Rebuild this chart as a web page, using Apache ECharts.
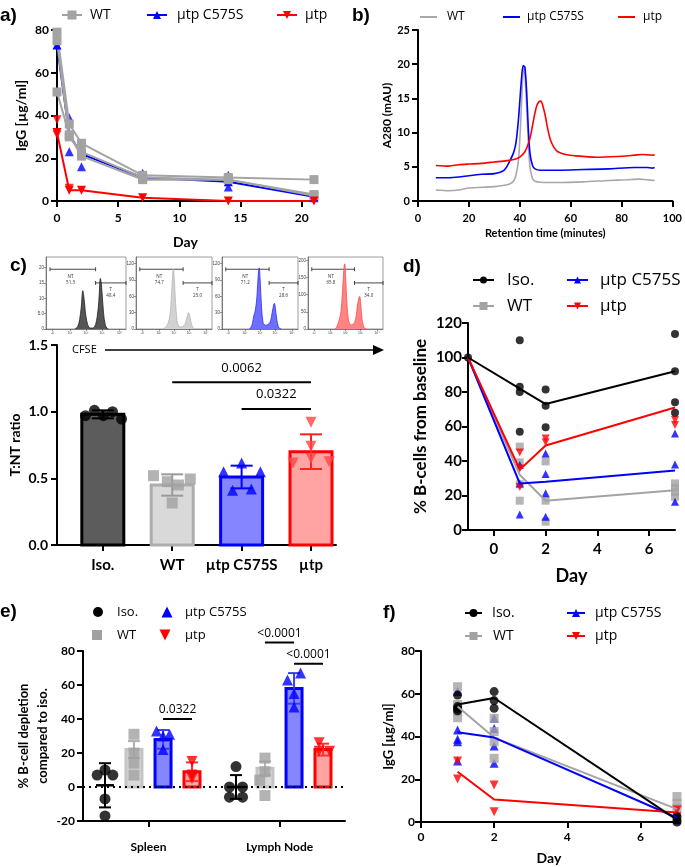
<!DOCTYPE html>
<html><head><meta charset="utf-8">
<script src="https://cdn.jsdelivr.net/npm/echarts@6/dist/echarts.min.js"></script>
<style>html,body{margin:0;padding:0;background:#fff}#c{width:685px;height:867px}</style>
</head><body><div id="c"></div>
<script>
// ================= DATA =================
const groups = ['Iso.', 'WT', 'µtp C575S', 'µtp'];
// a) IgG over time
const daysA = [0, 1, 2, 7, 14, 21];
const wtLinesA = [[79, 36, 27, 12, 11, 10], [75, 30, 23, 11, 10, 3], [51, 31, 21, 10, 10, 2.5]];
const c575LineA = [73, 31, 22, 11, 9, 2];
const c575ExtraA = [[1, 39], [1, 23], [2, 25], [2, 16], [7, 13], [14, 12], [14, 6.5], [21, 1.5]];
const utpLineA = [32, 5, 5, 1.5, 0, 0];
const utpExtraA = [[0, 38], [0, 31], [1, 6]];
// b) SEC traces [minutes, mAU]
const rtWT = [[7,1.6],[12,1.5],[16,1.6],[20,1.9],[25,2.0],[30,2.1],[34,2.3],[36,2.5],[37.5,2.9],[38.5,3.8],[39.5,6],[40.3,11],[41,17],[41.5,19.5],[42,18.5],[42.7,14],[43.3,9],[44,5],[45,3.3],[46,2.9],[48,2.75],[55,2.7],[65,2.8],[75,3.0],[82,3.1],[87,3.2],[90,3.1],[93,3.0]];
const rtC575 = [[7,3.4],[12,3.4],[16,3.5],[20,3.7],[25,3.9],[30,4.0],[33,4.3],[34.5,4.8],[36,5.8],[37.5,7],[38.5,8.5],[39.5,12],[40.5,17],[41.3,19.8],[42,19.6],[42.7,16],[43.3,11],[44,7],[45,5.2],[46,4.7],[48,4.5],[55,4.5],[65,4.6],[75,4.7],[85,4.9],[90,4.9],[92,4.8],[93,4.9]];
const rtUtp = [[7,5.2],[12,5.1],[16,5.3],[20,5.4],[25,5.5],[30,5.7],[35,5.9],[38,6.1],[40,6.4],[42,7.2],[43.5,8.5],[44.5,10],[45.5,12],[46.5,13.7],[47.5,14.5],[48.3,14.6],[49,14],[50,12.5],[51,10.5],[52,9],[53.5,7.8],[55,7.2],[58,6.8],[62,6.6],[70,6.4],[78,6.5],[85,6.7],[88,6.8],[93,6.7]];
// c) CFSE histograms
const histX = [0.36,0.38,0.40,0.42,0.44,0.46,0.48,0.49,0.50,0.52,0.54,0.56,0.58,0.60,0.62,0.64,0.66,0.68,0.69,0.70,0.72,0.74,0.76,0.78];
const histIso = [0,0.3,1,3,7,12.5,9,6,4,1.5,0.5,0.3,0.3,0.5,1.5,4,9,16.5,15,12,5,1.5,0.3,0];
const histWT = [0,2,5,10,20,45,95,110,100,50,15,6,4,4,5,8,15,26,30,28,15,5,1,0];
const histC575 = [0,3,10,25,35,60,105,112,95,40,12,8,7,8,10,15,30,44,47,40,18,5,1,0];
const histUtp = [0,5,15,30,50,110,180,190,160,70,25,15,12,14,18,35,70,92,95,80,30,8,2,0];
const histMax = [23.5, 132, 132, 210];
const histTicks = [[0,5,10,15,20],[0,30,60,90,120],[0,30,60,90,120],[0,50,100,150,200]];
const gateNT = ['51.3', '74.7', '71.2', '65.8'];
const gateT = ['48.4', '25.0', '28.6', '34.0'];
// c) T:NT ratio
const ratioMean = [0.98, 0.45, 0.51, 0.70];
const ratioSD = [0.03, 0.08, 0.085, 0.13];
const ratioPts = [[0.97,1.01,0.97,1.0,0.945],[0.52,0.475,0.45,0.495,0.315],[0.615,0.55,0.55,0.41,0.42],[0.92,0.74,0.65,0.615,0.625]];
const ratioJit = [[-0.25,-0.12,0.01,0.14,0.27],[-0.27,-0.07,0.09,0.26,0],[0,-0.26,0.27,-0.13,0.14],[0,0,0,-0.26,0.26]];
const ratioSig = [[1, 3, 1.22, '0.0062'], [2, 3, 1.02, '0.0322']];
// d) % B-cells from baseline
const daysD = [-1, 1, 2, 7];
const isoD = [100, 82, 73, 92];
const wtD = [100, 32, 17, 23];
const c575D = [100, 27, 28, 34.5];
const utpD = [100, 35, 49, 71];
const isoPtsD = [[-1,100],[1,110],[1,83],[1,80],[1,57],[2,81.5],[2,72],[2,59.5],[7,113.6],[7,92],[7,74],[7,68]];
const wtPtsD = [[1,48.3],[1,39.2],[1,26.5],[1,17],[2,39.8],[2,17],[2,4.8],[7,27],[7,24.5],[7,22],[7,19.3]];
const c575PtsD = [[1,37.7],[1,27],[1,9],[2,44.4],[2,32.5],[2,21.3],[2,7.7],[7,56],[7,38],[7,16.4]];
const utpPtsD = [[1,45],[1,35.7],[1,25],[2,53],[2,50.8],[7,63.8],[7,60.9]];
// e) % B-cell depletion
const organs = ['Spleen', 'Lymph Node'];
const deplMean = [[1, 0], [22, 11], [28, 58], [9, 22]];
const deplSD = [[13, 7], [5, 4], [5.5, 9], [5.5, 3.5]];
const deplPts = [[[10,7,7,-7,-17],[12,0,0,-6,-6]], [[31,20,14,7],[17,9,4,-5]], [[33,31,30,22],[63,67,55,47]], [[15,7,5],[26,21,21]]];
const deplJit = [[[0,-0.06,0.06,0,0],[0,-0.05,0.05,-0.05,0.05]], [[0,0,0,0],[0,0,-0.04,0]], [[-0.05,0.05,0,0],[-0.05,0.05,0,0]], [[0,0,0],[-0.03,-0.03,0.05]]];
const deplSig = [[0, 2, 3, 40, '0.0322'], [1, 1, 2, 85, '<0.0001'], [1, 2, 3, 72.5, '<0.0001']];
// f) IgG
const daysF = [1, 2, 7];
const isoF = [55, 58, 1];
const wtF = [54, 39.5, 6];
const c575F = [42, 39.5, 2];
const utpF = [23.5, 10.5, 4.5];
const isoPtsF = [[1,59.4],[1,54],[1,53],[1,52],[2,61],[2,56.8],[2,53.2],[7,2.5],[7,1],[7,0]];
const wtPtsF = [[1,63.3],[1,55],[1,51.6],[1,48.8],[2,48.5],[2,42.3],[2,37.6],[2,29.8],[7,11.9],[7,8.7],[7,6.4]];
const c575PtsF = [[1,61],[1,43],[1,38.7],[1,37.5],[1,28.5],[2,48.5],[2,43.8],[2,35.6],[2,27.5],[7,4.8],[7,1]];
const utpPtsF = [[1,28.5],[1,20.1],[2,17.3],[2,4.8],[7,5.6],[7,2.5]];

// ================= STYLE =================
const COL = {iso:'#000000', wt:'#a3a3a3', c575:'#0000ff', utp:'#ff0000'};
const FB = 'Lato, "Open Sans", sans-serif';
const FL = '"Open Sans", sans-serif';
function merge(a, b) {
  const o = Object.assign({}, a);
  for (const k in b) {
    if (b[k] && typeof b[k] === 'object' && !Array.isArray(b[k]) && a && a[k] && typeof a[k] === 'object' && !Array.isArray(a[k])) o[k] = merge(a[k], b[k]);
    else o[k] = b[k];
  }
  return o;
}
const BASE = {type:'value', axisLine:{show:true,onZero:false,lineStyle:{color:'#000',width:2}},
  axisTick:{show:true,length:6,lineStyle:{color:'#000',width:2}},
  axisLabel:{color:'#000',fontWeight:'bold',fontFamily:FB,fontSize:12,margin:8},
  splitLine:{show:false}, nameLocation:'middle',
  nameTextStyle:{color:'#000',fontWeight:'bold',fontFamily:FB,fontSize:13}};
const A = o => merge(BASE, o);

const grid = [
  {left:57, top:30, width:257, height:171},   // a
  {left:418, top:30, width:257, height:171},  // b
  {left:46, top:257, width:80, height:72, show:true, borderColor:'#777', borderWidth:0.7},  // hist 1
  {left:136, top:257, width:76, height:72, show:true, borderColor:'#777', borderWidth:0.7},
  {left:222, top:257, width:76, height:72, show:true, borderColor:'#777', borderWidth:0.7},
  {left:308, top:257, width:75, height:72, show:true, borderColor:'#777', borderWidth:0.7},
  {left:57, top:345, width:279, height:200},  // c
  {left:468, top:323, width:207, height:207}, // d
  {left:83, top:651, width:262, height:170},  // e
  {left:421, top:651, width:256, height:171}  // f
];
const xAxis = [], yAxis = [];
xAxis.push(A({gridIndex:0, min:0, max:21, axisLabel:{customValues:[0,5,10,15,20], margin:11}, axisTick:{customValues:[0,5,10,15,20]}, name:'Day', nameGap:34, nameTextStyle:{fontSize:14}}));
yAxis.push(A({gridIndex:0, min:0, max:80, interval:20, name:'IgG [µg/ml]', nameGap:29, nameTextStyle:{fontSize:14}}));
xAxis.push(A({gridIndex:1, min:0, max:100, interval:20, axisLabel:{fontSize:11, margin:12}, name:'Retention time (minutes)', nameGap:27, nameTextStyle:{fontSize:11}}));
yAxis.push(A({gridIndex:1, min:0, max:25, interval:5, axisLabel:{fontSize:11}, name:'A280 (mAU)', nameGap:25, nameTextStyle:{fontSize:12}}));
const histTickX = [0.08, 0.3, 0.5, 0.7, 0.92];
const histTickLab = ['-0', '10¹', '10²', '10³', '10⁴'];
for (let k = 0; k < 4; k++) {
  xAxis.push({type:'value', gridIndex:2+k, min:0, max:1,
    axisLine:{show:true,onZero:false,lineStyle:{color:'#555',width:0.7}},
    axisTick:{show:true,length:2,customValues:histTickX,lineStyle:{color:'#555',width:0.6}},
    axisLabel:{show:true,customValues:histTickX,fontSize:3.5,margin:2,color:'#444',formatter:(v)=>histTickLab[histTickX.indexOf(v)]||''},
    splitLine:{show:false}});
  yAxis.push({type:'value', gridIndex:2+k, min:0, max:histMax[k],
    axisLine:{show:true,onZero:false,lineStyle:{color:'#555',width:0.7}},
    axisTick:{show:true,length:2,customValues:histTicks[k],lineStyle:{color:'#555',width:0.6}},
    axisLabel:{show:true,customValues:histTicks[k],fontSize:4.5,margin:2,color:'#444',formatter:(v)=> (k===0 && v===5) ? '5.0' : String(v)},
    splitLine:{show:false}});
}
xAxis.push(A({gridIndex:6, min:-0.66, max:3.36, axisLabel:{customValues:[0,1,2,3], fontSize:15, margin:13, formatter:(v)=>groups[Math.round(v)]}, axisTick:{customValues:[0,1,2,3]}}));
yAxis.push(A({gridIndex:6, min:0, max:1.5, interval:0.5, axisLabel:{fontSize:14, margin:9, formatter:(v)=>v.toFixed(1)}, name:'T:NT ratio', nameGap:35, nameTextStyle:{fontSize:14}}));
xAxis.push(A({gridIndex:7, min:-1, max:7, axisLabel:{customValues:[0,2,4,6], fontSize:15, margin:12}, axisTick:{customValues:[0,2,4,6]}, name:'Day', nameGap:37, nameTextStyle:{fontSize:18}}));
yAxis.push(A({gridIndex:7, min:0, max:120, interval:20, axisLabel:{fontSize:15, margin:6}, name:'% B-cells from baseline', nameGap:39, nameTextStyle:{fontSize:17}}));
xAxis.push(A({gridIndex:8, min:0, max:2, axisLabel:{customValues:[0.5,1.5], fontSize:12, margin:20, formatter:(v)=>organs[Math.floor(v)]}, axisTick:{customValues:[0.5,1.5]}}));
yAxis.push(A({gridIndex:8, min:-20, max:80, interval:20, axisLabel:{fontSize:12}, name:'% B-cell depletion\ncompared to iso.', nameGap:29, nameTextStyle:{fontSize:13, lineHeight:19}}));
xAxis.push(A({gridIndex:9, min:0, max:7, axisLabel:{customValues:[0,2,4,6], fontSize:12, margin:9}, axisTick:{customValues:[0,2,4,6]}, name:'Day', nameGap:29, nameTextStyle:{fontSize:14}}));
yAxis.push(A({gridIndex:9, min:0, max:80, interval:20, axisLabel:{fontSize:12, margin:6}, name:'IgG [µg/ml]', nameGap:26, nameTextStyle:{fontSize:13}}));

const series = [];
const ax = i => ({xAxisIndex:i, yAxisIndex:i});
// ---- a)
series.push(Object.assign(ax(0), {type:'line', data:daysA.map((d,i)=>[d,c575LineA[i]]), symbol:'triangle', symbolSize:9, itemStyle:{color:COL.c575}, lineStyle:{color:COL.c575,width:2}}));
series.push(Object.assign(ax(0), {type:'scatter', data:c575ExtraA, symbol:'triangle', symbolSize:9, itemStyle:{color:COL.c575}}));
wtLinesA.forEach(l => series.push(Object.assign(ax(0), {type:'line', data:daysA.map((d,i)=>[d,l[i]]), symbol:'rect', symbolSize:9, itemStyle:{color:COL.wt}, lineStyle:{color:COL.wt,width:2}})));
series.push(Object.assign(ax(0), {type:'line', data:daysA.map((d,i)=>[d,utpLineA[i]]), symbol:'triangle', symbolRotate:180, symbolSize:9, itemStyle:{color:COL.utp}, lineStyle:{color:COL.utp,width:2}}));
series.push(Object.assign(ax(0), {type:'scatter', data:utpExtraA, symbol:'triangle', symbolRotate:180, symbolSize:9, itemStyle:{color:COL.utp}}));
// ---- b)
[[rtWT,'#a8a8a8'],[rtC575,COL.c575],[rtUtp,COL.utp]].forEach(([d,c]) => series.push(Object.assign(ax(1), {type:'line', data:d, smooth:0.25, showSymbol:false, lineStyle:{color:c,width:1.6}})));
// ---- c) histograms
const histData = [histIso, histWT, histC575, histUtp];
const histFill = ['#555555', '#d2d2d2', '#6f6fff', '#ff8585'];
const histLine = ['#222222', '#b5b5b5', '#2a2aff', '#ff4a4a'];
histData.forEach((h,k) => {
  series.push(Object.assign(ax(2+k), {type:'line', data:histX.map((x,i)=>[x,h[i]]), smooth:0.35, showSymbol:false, lineStyle:{color:histLine[k],width:0.8}, areaStyle:{color:histFill[k],opacity:1}}));
  const gates = [[0.05, 0.62, 0.83, 'NT', gateNT[k]], [0.62, 1.0, 0.64, 'T', gateT[k]]];
  series.push(Object.assign(ax(2+k), {type:'custom', data:gates.map(g=>[g[0], g[2]*histMax[k]]), renderItem:(p,api)=>{
    const g = gates[p.dataIndex];
    const a = api.coord([g[0], g[2]*histMax[k]]), b = api.coord([g[1], g[2]*histMax[k]]);
    const s = {stroke:'#333', lineWidth:0.9};
    return {type:'group', children:[
      {type:'line', shape:{x1:a[0],y1:a[1],x2:b[0],y2:b[1]}, style:s},
      {type:'line', shape:{x1:a[0],y1:a[1]-2,x2:a[0],y2:a[1]+2}, style:s},
      {type:'line', shape:{x1:b[0],y1:b[1]-2,x2:b[0],y2:b[1]+2}, style:s},
      {type:'text', x:(p.dataIndex===0 ? a[0]+(b[0]-a[0])*0.45 : a[0]+(b[0]-a[0])*0.5), y:a[1]+4, style:{text:g[3]+'\n'+g[4], fontSize:4.5, lineHeight:6, fill:'#333', align:'center', verticalAlign:'top', fontFamily:FL}}
    ]};
  }}));
});
// ---- c) bars
const BAR_C = [{fill:'#5c5c5c', stroke:'#000', err:'#000'}, {fill:'#d9d9d9', stroke:'#adadad', err:'#9a9a9a'}, {fill:'#8585ff', stroke:'#0000ff', err:'#0000ff'}, {fill:'#ffa3a3', stroke:'#ff0000', err:'#ff2020'}];
const SYM = ['circle', 'rect', 'triangle', 'triangle'];
const PTC = ['#000000', '#a0a0a0', '#0000ff', '#ff4545'];
series.push(Object.assign(ax(6), {type:'custom', z:2, data:ratioMean.map((m,i)=>[i,m]), renderItem:(p,api)=>{
  const i = p.dataIndex, m = ratioMean[i], sd = ratioSD[i], st = BAR_C[i];
  const base = api.coord([i,0]), top = api.coord([i,m]), up = api.coord([i,m+sd]), dn = api.coord([i,m-sd]);
  const w = 42, cw = 11;
  return {type:'group', children:[
    {type:'rect', shape:{x:base[0]-w/2, y:top[1], width:w, height:base[1]-top[1]}, style:{fill:st.fill, stroke:st.stroke, lineWidth:3}},
    {type:'line', shape:{x1:top[0],y1:up[1],x2:top[0],y2:dn[1]}, style:{stroke:st.err,lineWidth:2}},
    {type:'line', shape:{x1:top[0]-cw,y1:up[1],x2:top[0]+cw,y2:up[1]}, style:{stroke:st.err,lineWidth:2}},
    {type:'line', shape:{x1:top[0]-cw,y1:dn[1],x2:top[0]+cw,y2:dn[1]}, style:{stroke:st.err,lineWidth:2}}
  ]};
}}));
ratioPts.forEach((pts,g) => series.push(Object.assign(ax(6), {type:'scatter', z:4, symbol:SYM[g], symbolRotate:g===3?180:0, symbolSize:11, itemStyle:{color:PTC[g]}, data:pts.map((v,k)=>[g+ratioJit[g][k], v])})));
series.push(Object.assign(ax(6), {type:'custom', z:5, data:ratioSig.map(s=>[s[0],s[2]]), renderItem:(p,api)=>{
  const s = ratioSig[p.dataIndex]; const a = api.coord([s[0],s[2]]), b = api.coord([s[1],s[2]]);
  return {type:'group', children:[
    {type:'line', shape:{x1:a[0],y1:a[1],x2:b[0],y2:b[1]}, style:{stroke:'#000',lineWidth:2}},
    {type:'text', x:(a[0]+b[0])/2, y:a[1]-8, style:{text:s[3], fontSize:13, fontFamily:FL, fill:'#000', align:'center', verticalAlign:'bottom'}}
  ]};
}}));
// ---- d)
const COLS = [COL.iso, COL.wt, COL.c575, COL.utp];
[[wtD,1],[c575D,2],[utpD,3],[isoD,0]].forEach(([d,g]) => series.push(Object.assign(ax(7), {type:'line', data:daysD.map((x,i)=>[x,d[i]]), showSymbol:false, lineStyle:{color:COLS[g],width:2}})));
[[wtPtsD,1],[c575PtsD,2],[utpPtsD,3],[isoPtsD,0]].forEach(([d,g]) => series.push(Object.assign(ax(7), {type:'scatter', data:d, symbol:SYM[g], symbolRotate:g===3?180:0, symbolSize:g===0?8:8, itemStyle:{color:COLS[g]}})));
// ---- e)
const OFF_E = [-0.332, -0.111, 0.111, 0.332];
const BAR_E = [null, {fill:'#d9d9d9', stroke:'#c4c4c4', err:'#b0b0b0'}, {fill:'#8585ff', stroke:'#0000ff', err:'#3b3bff'}, {fill:'#ffa3a3', stroke:'#ff0000', err:'#ff3030'}];
const eItems = [];
for (let g = 0; g < 4; g++) for (let c = 0; c < 2; c++) eItems.push([g, c]);
series.push(Object.assign(ax(8), {type:'custom', z:2, data:eItems.map(([g,c])=>[c+0.5+OFF_E[g], deplMean[g][c]]),
  markLine:{silent:true, symbol:'none', label:{show:false}, lineStyle:{type:[2,4], color:'#000', width:2}, data:[{yAxis:0}]},
  renderItem:(p,api)=>{
  const [g,c] = eItems[p.dataIndex]; const x = c+0.5+OFF_E[g]; const m = deplMean[g][c], sd = deplSD[g][c];
  const base = api.coord([x,0]), top = api.coord([x,m]), up = api.coord([x,m+sd]), dn = api.coord([x,m-sd]);
  const ch = []; const cw = 6;
  const ec = g===0 ? '#000' : BAR_E[g].err;
  if (g > 0) ch.push({type:'rect', shape:{x:base[0]-8, y:Math.min(top[1],base[1]), width:16, height:Math.abs(base[1]-top[1])}, style:{fill:BAR_E[g].fill, stroke:BAR_E[g].stroke, lineWidth:3}});
  ch.push({type:'line', shape:{x1:top[0],y1:up[1],x2:top[0],y2:dn[1]}, style:{stroke:ec,lineWidth:2}});
  ch.push({type:'line', shape:{x1:top[0]-cw,y1:up[1],x2:top[0]+cw,y2:up[1]}, style:{stroke:ec,lineWidth:2}});
  ch.push({type:'line', shape:{x1:top[0]-cw,y1:dn[1],x2:top[0]+cw,y2:dn[1]}, style:{stroke:ec,lineWidth:2}});
  if (g === 0) ch.push({type:'line', shape:{x1:top[0]-9,y1:top[1],x2:top[0]+9,y2:top[1]}, style:{stroke:'#000',lineWidth:2.5}});
  return {type:'group', children:ch};
}}));
deplPts.forEach((byOrg,g) => {
  const data = [];
  byOrg.forEach((vals,c) => vals.forEach((v,k) => data.push([c+0.5+OFF_E[g]+deplJit[g][c][k], v])));
  series.push(Object.assign(ax(8), {type:'scatter', z:4, symbol:SYM[g], symbolRotate:g===3?180:0, symbolSize:11, itemStyle:{color:g===1?'#a0a0a0':COLS[g]}, data}));
});
series.push(Object.assign(ax(8), {type:'custom', z:5, data:deplSig.map(s=>[s[0]+0.5+OFF_E[s[1]], s[3]]), renderItem:(p,api)=>{
  const s = deplSig[p.dataIndex]; const a = api.coord([s[0]+0.5+OFF_E[s[1]], s[3]]), b = api.coord([s[0]+0.5+OFF_E[s[2]], s[3]]);
  return {type:'group', children:[
    {type:'line', shape:{x1:a[0],y1:a[1],x2:b[0],y2:b[1]}, style:{stroke:'#000',lineWidth:2}},
    {type:'text', x:(a[0]+b[0])/2, y:a[1]-3, style:{text:s[4], fontSize:12, fontFamily:FL, fill:'#000', align:'center', verticalAlign:'bottom'}}
  ]};
}}));
// ---- f)
[[wtF,1],[c575F,2],[utpF,3],[isoF,0]].forEach(([d,g]) => series.push(Object.assign(ax(9), {type:'line', data:daysF.map((x,i)=>[x,d[i]]), showSymbol:false, lineStyle:{color:COLS[g],width:2}})));
[[c575PtsF,2],[wtPtsF,1],[utpPtsF,3],[isoPtsF,0]].forEach(([d,g]) => series.push(Object.assign(ax(9), {type:'scatter', data:d, symbol:SYM[g], symbolRotate:g===3?180:0, symbolSize:9, itemStyle:{color:COLS[g]}})));

// ================= LEGENDS / LABELS (graphic) =================
function symEl(sym, cx, cy, s, color) {
  if (sym === 'circle') return {type:'circle', shape:{cx, cy, r:s/2}, style:{fill:color}};
  if (sym === 'rect') return {type:'rect', shape:{x:cx-s/2, y:cy-s/2, width:s, height:s}, style:{fill:color}};
  if (sym === 'up') return {type:'polygon', shape:{points:[[cx,cy-s/2],[cx+s/2,cy+s/2],[cx-s/2,cy+s/2]]}, style:{fill:color}};
  return {type:'polygon', shape:{points:[[cx-s/2,cy-s/2],[cx+s/2,cy-s/2],[cx,cy+s/2]]}, style:{fill:color}};
}
const G = [];
function leg(x, y, o) {
  if (o.line) G.push({type:'line', shape:{x1:x, y1:y, x2:x+o.line, y2:y}, style:{stroke:o.color, lineWidth:o.lw || 2}});
  if (o.sym) G.push(symEl(o.sym, x + (o.line ? o.line/2 : 0), y, o.size, o.color));
  G.push({type:'text', x:o.tx, y:y, style:{text:o.text, fontSize:o.fs, fontFamily:FL, fill:'#000', verticalAlign:'middle'}});
}
// a
leg(62, 15, {line:20, sym:'rect', size:9, color:COL.wt, text:'WT', tx:90, fs:14});
leg(147, 15, {line:20, sym:'up', size:8, color:COL.c575, text:'µtp C575S', tx:177, fs:14});
leg(277, 15, {line:20, sym:'down', size:8, color:COL.utp, text:'µtp', tx:305, fs:14});
// b
leg(420, 17, {line:17, color:'#a8a8a8', text:'WT', tx:447, fs:12});
leg(503, 17, {line:17, color:COL.c575, text:'µtp C575S', tx:527, fs:12});
leg(618, 17, {line:17, color:COL.utp, text:'µtp', tx:643, fs:12});
// d
leg(473, 280, {line:21, sym:'circle', size:7, color:COL.iso, text:'Iso.', tx:507, fs:17});
leg(567, 280, {line:21, sym:'up', size:7, color:COL.c575, text:'µtp C575S', tx:600, fs:17});
leg(473, 306, {line:21, sym:'rect', size:8, color:COL.wt, text:'WT', tx:507, fs:17});
leg(567, 306, {line:21, sym:'down', size:7, color:COL.utp, text:'µtp', tx:600, fs:17});
// e
leg(98, 612, {sym:'circle', size:10, color:COL.iso, text:'Iso.', tx:117, fs:13});
leg(167, 612, {sym:'up', size:11, color:COL.c575, text:'µtp C575S', tx:185, fs:13});
leg(97, 635, {sym:'rect', size:10, color:'#a0a0a0', text:'WT', tx:117, fs:13});
leg(165, 635, {sym:'down', size:11, color:COL.utp, text:'µtp', tx:185, fs:13});
// f
leg(465, 613, {line:17, sym:'circle', size:8, color:COL.iso, text:'Iso.', tx:492, fs:14});
leg(567, 613, {line:18, sym:'up', size:8, color:COL.c575, text:'µtp C575S', tx:595, fs:14});
leg(465, 636, {line:17, sym:'rect', size:8, color:COL.wt, text:'WT', tx:493, fs:14});
leg(567, 636, {line:18, sym:'down', size:8, color:COL.utp, text:'µtp', tx:595, fs:14});
// panel letters
[['a)',0,16],['b)',352,16],['c)',10,266],['d)',403,267],['e)',0,612],['f)',383,613]].forEach(([t,x,y]) =>
  G.push({type:'text', x, y, style:{text:t, fontSize:19, fontWeight:'bold', fontFamily:'"Liberation Sans", Arial, sans-serif', fill:'#000', verticalAlign:'middle'}}));
// CFSE arrow
G.push({type:'text', x:72, y:350, style:{text:'CFSE', fontSize:11, fontFamily:FL, fill:'#000', verticalAlign:'middle'}});
G.push({type:'line', shape:{x1:105, y1:350, x2:376, y2:350}, style:{stroke:'#000', lineWidth:1.3}});
G.push({type:'polygon', shape:{points:[[384,350],[373,345],[373,355]]}, style:{fill:'#000'}});

const chart = echarts.init(document.getElementById('c'), null, {renderer:'canvas'});
chart.setOption({animation:false, backgroundColor:'#fff', grid, xAxis, yAxis, series, graphic:{elements:G}});
</script>
</body></html>
